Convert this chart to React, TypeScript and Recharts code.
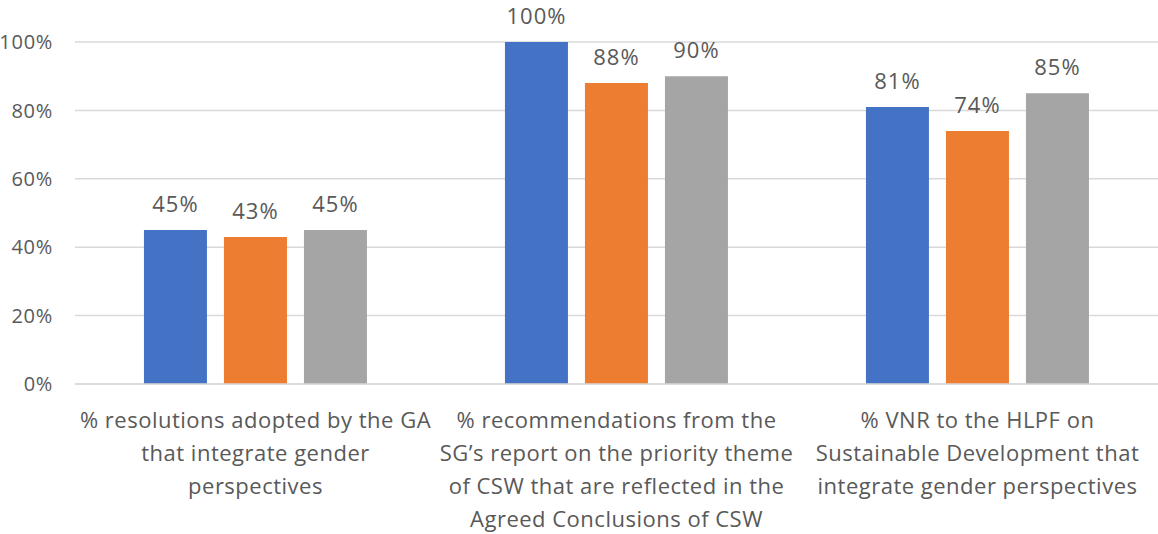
import React from "react";
import { BarChart, Bar, XAxis, YAxis, CartesianGrid, LabelList } from "recharts";

const categories = [
  "% resolutions adopted by the GA\nthat integrate gender\nperspectives",
  "% recommendations from the\nSG’s report on the priority theme\nof CSW that are reflected in the\nAgreed Conclusions of CSW",
  "% VNR to the HLPF on\nSustainable Development that\nintegrate gender perspectives",
];
const series1 = [45, 100, 81];
const series2 = [43, 88, 74];
const series3 = [45, 90, 85];
const yTicks = [0, 20, 40, 60, 80, 100];

const FONT = "'Open Sans', sans-serif";
const TEXT = "#595959";

const data = categories.map((c, i) => ({
  name: c,
  s1: series1[i],
  s2: series2[i],
  s3: series3[i],
}));

function CategoryTick(props: any) {
  const { x, y, payload } = props;
  const lines = String(payload.value).split("\n");
  return (
    <g transform={`translate(${x},${y})`}>
      {lines.map((l, i) => (
        <text
          key={i}
          x={0}
          y={36 + i * 33}
          textAnchor="middle"
          fill={TEXT}
          fontSize={22}
          letterSpacing={0.5}
          fontFamily={FONT}
        >
          {l}
        </text>
      ))}
    </g>
  );
}

const pct = (v: any) => `${v}%`;

const labelProps = {
  position: "top" as const,
  offset: 18,
  formatter: pct,
  fill: TEXT,
  fontSize: 22,
  letterSpacing: 1,
  fontFamily: FONT,
};

export default function App() {
  return (
    <div style={{ position: "absolute", left: 0, top: 0, width: 1158, height: 534, background: "#fff" }}>
      <BarChart
        width={1158}
        height={534}
        data={data}
        margin={{ top: 42, right: 0, left: 0, bottom: 0 }}
        barCategoryGap="19.1%"
        barGap={17}
      >
        <CartesianGrid vertical={false} stroke="#D9D9D9" strokeWidth={1.5} />
        <XAxis
          dataKey="name"
          height={150}
          axisLine={{ stroke: "#D9D9D9", strokeWidth: 1.5 }}
          tickLine={false}
          tick={<CategoryTick />}
          interval={0}
        />
        <YAxis
          width={75}
          domain={[0, 100]}
          ticks={yTicks}
          tickFormatter={pct}
          axisLine={false}
          tickLine={false}
          tickMargin={16}
          tick={{ fontSize: 20, fill: TEXT, fontFamily: FONT, letterSpacing: 0.7 }}
        />
        <Bar dataKey="s1" fill="#4472C4" isAnimationActive={false}>
          <LabelList dataKey="s1" {...labelProps} />
        </Bar>
        <Bar dataKey="s2" fill="#ED7D31" isAnimationActive={false}>
          <LabelList dataKey="s2" {...labelProps} />
        </Bar>
        <Bar dataKey="s3" fill="#A5A5A5" isAnimationActive={false}>
          <LabelList dataKey="s3" {...labelProps} />
        </Bar>
      </BarChart>
    </div>
  );
}
